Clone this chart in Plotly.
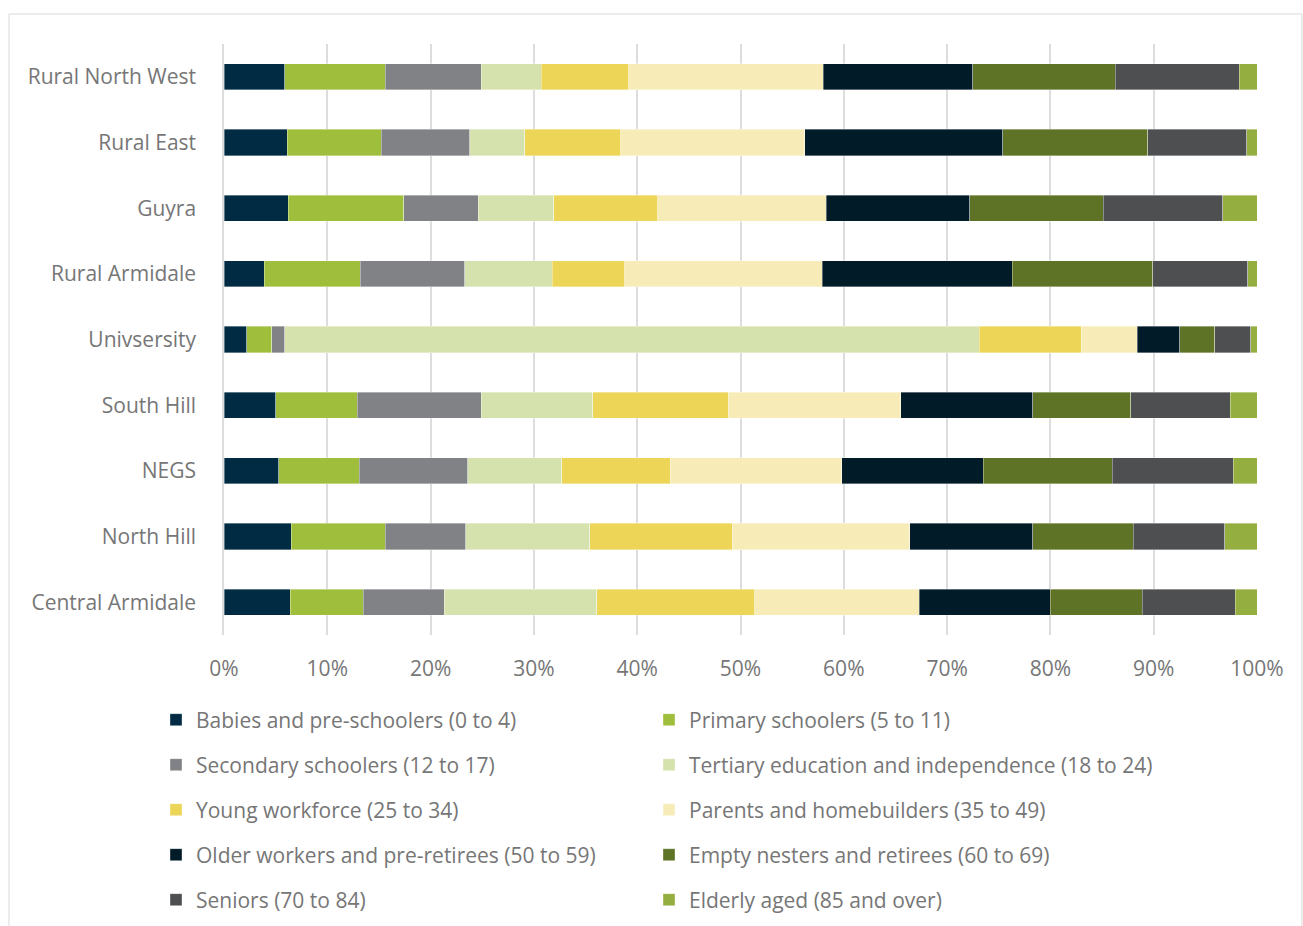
import plotly.graph_objects as go

categories = ["Rural North West", "Rural East", "Guyra", "Rural Armidale", "Univsersity",
              "South Hill", "NEGS", "North Hill", "Central Armidale"]

series_names = [
    "Babies and pre-schoolers (0 to 4)",
    "Primary schoolers (5 to 11)",
    "Secondary schoolers (12 to 17)",
    "Tertiary education and independence (18 to 24)",
    "Young workforce (25 to 34)",
    "Parents and homebuilders (35 to 49)",
    "Older workers and pre-retirees (50 to 59)",
    "Empty nesters and retirees (60 to 69)",
    "Seniors (70 to 84)",
    "Elderly aged (85 and over)",
]

babies     = [5.9, 6.1, 6.2, 3.9, 2.2, 5.0, 5.3, 6.5, 6.4]
primary    = [9.7, 9.1, 11.2, 9.3, 2.4, 7.9, 7.8, 9.1, 7.1]
secondary  = [9.3, 8.6, 7.2, 10.1, 1.3, 12.0, 10.5, 7.8, 7.8]
tertiary   = [5.8, 5.3, 7.3, 8.5, 67.2, 10.8, 9.1, 12.0, 14.8]
young      = [8.5, 9.3, 10.1, 7.0, 9.9, 13.1, 10.5, 13.8, 15.3]
parents    = [18.8, 17.8, 16.3, 19.1, 5.4, 16.7, 16.6, 17.2, 15.9]
older      = [14.5, 19.2, 13.9, 18.4, 4.1, 12.8, 13.7, 11.9, 12.7]
empty      = [13.8, 14.0, 12.9, 13.6, 3.4, 9.5, 12.5, 9.7, 8.9]
seniors    = [12.0, 9.6, 11.6, 9.2, 3.5, 9.6, 11.7, 8.9, 9.0]
elderly    = [1.7, 1.0, 3.3, 0.9, 0.6, 2.6, 2.3, 3.1, 2.1]

series_values = [babies, primary, secondary, tertiary, young, parents, older, empty, seniors, elderly]

colors = ["#002B43", "#9FBE3C", "#818286", "#D5E2AE", "#EDD557",
          "#F7ECB8", "#011B28", "#5E7325", "#4E4F51", "#95AE40"]

tick_vals = [0, 10, 20, 30, 40, 50, 60, 70, 80, 90, 100]
tick_text = ["0%", "10%", "20%", "30%", "40%", "50%", "60%", "70%", "80%", "90%", "100%"]

W, H = 1303, 926
ML, MR, MT, MB = 224, 46, 44, 291
plot_w = W - ML - MR
plot_h = H - MT - MB

def px_x(x):
    return (x - ML) / plot_w

def px_y(y):
    return (H - MB - y) / plot_h

text_color = "#767676"
font_family = "Open Sans"
fsize = 21

fig = go.Figure()
legend_layouts = {}
for i, (name, vals, col) in enumerate(zip(series_names, series_values, colors)):
    lname = "legend" if i == 0 else f"legend{i+1}"
    fig.add_trace(go.Bar(
        y=categories, x=vals, name=name, orientation="h",
        marker=dict(color=col, line=dict(color="rgba(255,255,255,0.6)", width=0.6)),
        legend=lname,
    ))
    row, colidx = i // 2, i % 2
    text_x = 196 if colidx == 0 else 689
    row_y = 720 + 45 * row
    legend_layouts[lname] = dict(
        xref="container", yref="container",
        x=(text_x - 40) / W, y=1 - row_y / H, xanchor="left", yanchor="middle",
        bgcolor="rgba(0,0,0,0)", borderwidth=0,
        font=dict(family=font_family, size=fsize, color=text_color),
    )

fig.update_layout(
    width=W, height=H,
    margin=dict(l=ML, r=MR, t=MT, b=MB, autoexpand=False),
    barmode="stack", barnorm="percent", bargap=0.6,
    plot_bgcolor="white", paper_bgcolor="white",
    font=dict(family=font_family, size=fsize, color=text_color),
    showlegend=True,
    **legend_layouts,
)

fig.update_xaxes(
    range=[0, 100], tickvals=tick_vals, ticktext=tick_text,
    showgrid=True, gridcolor="#DDDDDD", gridwidth=1.5,
    zeroline=False, showline=False, ticks="",
    ticklabelstandoff=19,
    tickfont=dict(family=font_family, size=fsize, color=text_color),
)
fig.update_yaxes(
    autorange="reversed", showgrid=False, zeroline=False,
    showline=True, linecolor="#DDDDDD", linewidth=1.5, ticks="",
    ticklabelstandoff=22,
    tickfont=dict(family=font_family, size=fsize, color=text_color),
)

fig.add_shape(type="rect", xref="paper", yref="paper",
              x0=px_x(9), x1=px_x(1302), y0=px_y(935), y1=px_y(14),
              line=dict(color="#D9D9D9", width=1), fillcolor="rgba(0,0,0,0)", layer="below")

fig.write_html("out.html")
